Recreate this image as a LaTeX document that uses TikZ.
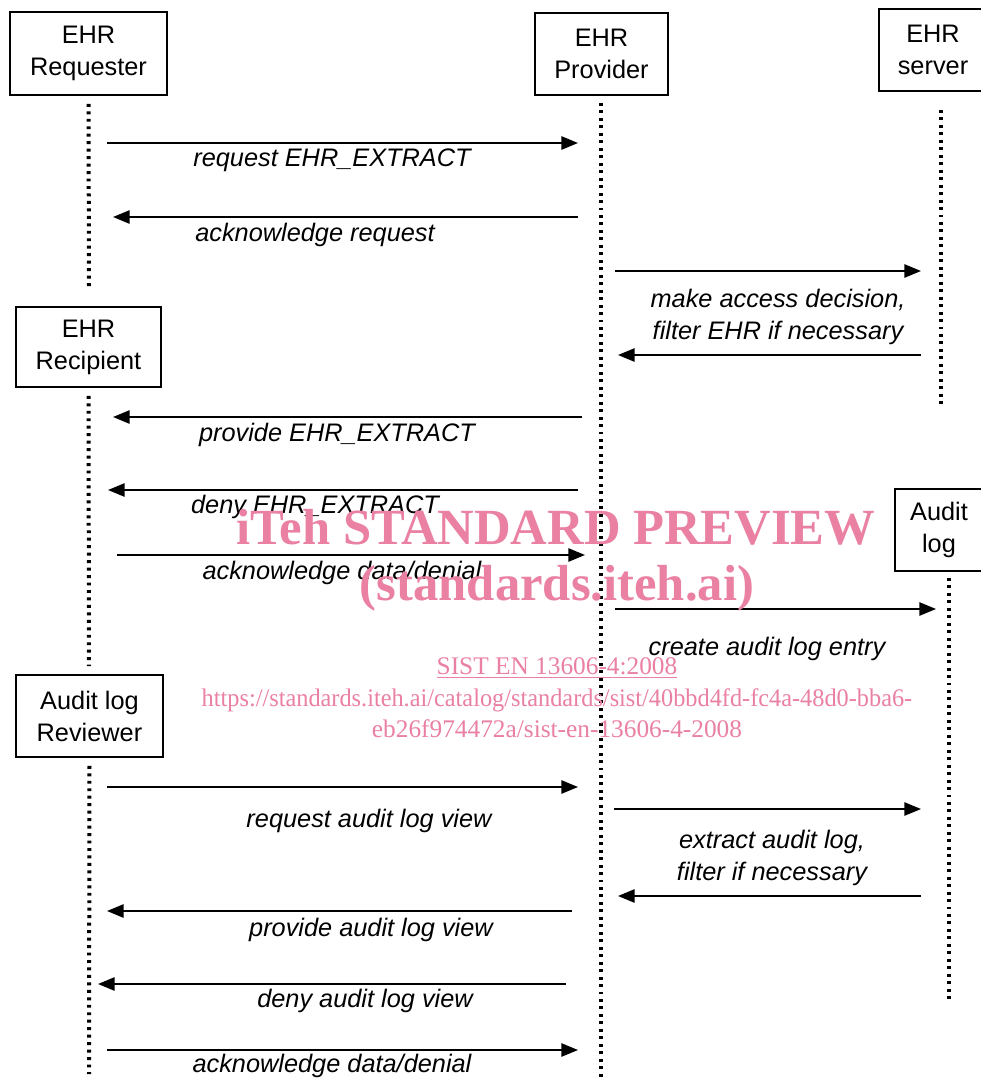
\documentclass[tikz,border=0pt]{standalone}
\usepackage{fontspec}
\setmainfont{Liberation Sans}
\newfontfamily\wmfont{Liberation Serif}
\usetikzlibrary{arrows.meta}
\definecolor{wmpink}{RGB}{234,128,162}

\tikzset{
  actor/.style={draw,line width=1.3pt,align=center,inner sep=0pt,
    font=\fontsize{19}{24}\selectfont},
  lifeline/.style={line width=3pt,dash pattern=on 2.2pt off 3.4pt},
  msg/.style={line width=1.3pt,-{Triangle[length=12.5pt,width=10pt]}},
  lbl/.style={font=\fontsize{19}{23.5}\selectfont\itshape,align=center,inner sep=0pt},
  wm/.style={text=wmpink,inner sep=0pt,align=center}
}

\begin{document}
\begin{tikzpicture}[x=0.75pt,y=-0.75pt]
  \clip (0,0) rectangle (981,1079);
  \fill[white] (0,0) rectangle (981,1079);

  % actors
  \node[actor,minimum width=157*0.75pt,minimum height=83*0.75pt] (req) at (88.5,53.5) {EHR\\Requester};
  \node[actor,minimum width=133*0.75pt,minimum height=82*0.75pt] (prov) at (601.5,54) {EHR\\Provider};
  \node[actor,minimum width=108*0.75pt,minimum height=82*0.75pt] (srv) at (933,50) {EHR\\server};
  \node[actor,minimum width=145*0.75pt,minimum height=80*0.75pt] (rcp) at (88.5,347) {EHR\\Recipient};
  \node[actor,minimum width=88*0.75pt,minimum height=82*0.75pt] (log) at (939,530) {Audit\\log};
  \node[actor,minimum width=147*0.75pt,minimum height=82*0.75pt] (rev) at (89.5,716) {Audit log\\Reviewer};

  % lifelines
  \coordinate (reqend) at (89,286);
  \coordinate (provtop) at (601,103);
  \coordinate (provend) at (601,1079);
  \coordinate (srvtop) at (941,110);
  \coordinate (srvend) at (941,404);
  \coordinate (rcpend) at (89,666);
  \coordinate (logtop) at (949,578);
  \coordinate (logend) at (949,1003);
  \coordinate (revend) at (89,1074);
  \draw[lifeline] ([yshift=-6pt]req.south) -- (reqend);
  \draw[lifeline] (provtop) -- (provend);
  \draw[lifeline] (srvtop) -- (srvend);
  \draw[lifeline] ([yshift=-6pt]rcp.south) -- (rcpend);
  \draw[lifeline] (logtop) -- (logend);
  \draw[lifeline] ([yshift=-6pt]rev.south) -- (revend);

  % messages
  \foreach \n/\xa/\xb/\y in {1/107/578/143, 2/578/113/217, 3/615/921/271,
      4/921/618/355, 5/582/113/417, 6/578/108/490, 7/117/585/555,
      8/615/936/609, 9/107/578/787, 10/614/921/809, 11/921/618/896,
      12/572/107/911, 13/566/98/984, 14/107/578/1050} {
    \coordinate (m\n a) at (\xa,\y);
    \coordinate (m\n b) at (\xb,\y);
    \draw[msg] (m\n a) -- (m\n b);
  }

  % message labels
  \node[lbl] (l1) at (332,160) {request EHR\_EXTRACT};
  \node[lbl] (l2) at (315,235) {acknowledge request};
  \node[lbl] (l3) at (778,317) {make access decision,\\filter EHR if necessary};
  \node[lbl] (l5) at (337,435) {provide EHR\_EXTRACT};
  \node[lbl] (l6) at (315,507) {deny EHR\_EXTRACT};
  \node[lbl] (l7) at (342,573) {acknowledge data/denial};
  \node[lbl] (l8) at (767,649) {create audit log entry};
  \node[lbl] (l9) at (369,821) {request audit log view};
  \node[lbl] (l10) at (772,858) {extract audit log,\\filter if necessary};
  \node[lbl] (l12) at (371,930) {provide audit log view};
  \node[lbl] (l13) at (365,1001) {deny audit log view};
  \node[lbl] (l14) at (332,1066) {acknowledge data/denial};

  % watermark
  \node[wm,font=\wmfont\bfseries\fontsize{38}{40}\selectfont] (wm1) at (556,527) {iTeh STANDARD PREVIEW};
  \node[wm,font=\wmfont\bfseries\fontsize{38}{40}\selectfont] (wm2) at (557,588) {(standards.iteh.ai)};
  \node[wm,font=\wmfont\fontsize{19}{23.6}\selectfont] (wm3) at (557,698)
    {\underline{SIST EN 13606-4:2008}\\
     \scalebox{0.96}[1]{https://standards.iteh.ai/catalog/standards/sist/40bbd4fd-fc4a-48d0-bba6-}\\
     eb26f974472a/sist-en-13606-4-2008};
\end{tikzpicture}
\end{document}
